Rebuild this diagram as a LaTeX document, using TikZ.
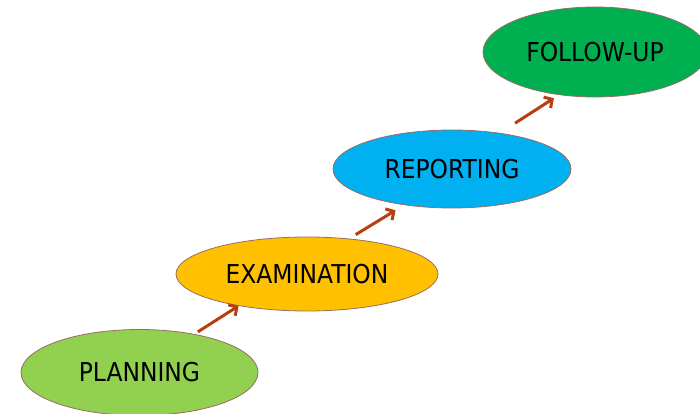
\documentclass[tikz,border=0pt]{standalone}
\usepackage{fontspec}
\setmainfont{DejaVu Sans}[FakeStretch=0.9]
\usetikzlibrary{shapes.geometric,arrows.meta}

\definecolor{plangreen}{RGB}{146,208,80}
\definecolor{examgold}{RGB}{255,192,0}
\definecolor{reportblue}{RGB}{0,176,240}
\definecolor{followgreen}{RGB}{0,176,80}
\definecolor{edgebrown}{RGB}{150,110,100}
\definecolor{rust}{RGB}{183,62,14}

\begin{document}
\begin{tikzpicture}[x=1pt,y=-1pt,
  stage/.style={ellipse, draw=edgebrown, line width=0.8pt, inner sep=0pt,
    font=\fontsize{26}{30}\selectfont},
  flow/.style={-{Straight Barb[length=6pt,width=13pt]}, line width=3pt, draw=rust}]
\useasboundingbox (0,0) rectangle (700,414);

\node[stage, fill=plangreen, minimum width=237pt, minimum height=86pt] (plan) at (139.5,372.5) {PLANNING};
\node[stage, fill=examgold, minimum width=262pt, minimum height=74pt] (exam) at (307,274) {EXAMINATION};
\node[stage, fill=reportblue, minimum width=238pt, minimum height=78pt] (report) at (452,169) {REPORTING};
\node[stage, fill=followgreen, minimum width=224pt, minimum height=90pt] (fu) at (595,52) {FOLLOW-UP};

% steps between the stages
\draw[flow, shorten <=4pt] (plan.35) -- (exam.205.5);
\draw[flow, shorten <=7.6pt, shorten >=10pt] (exam.40) -- (report.217.7);
\draw[flow, shorten <=18pt, shorten >=6pt] (report.37.6) -- (fu.230.9);
\end{tikzpicture}
\end{document}
